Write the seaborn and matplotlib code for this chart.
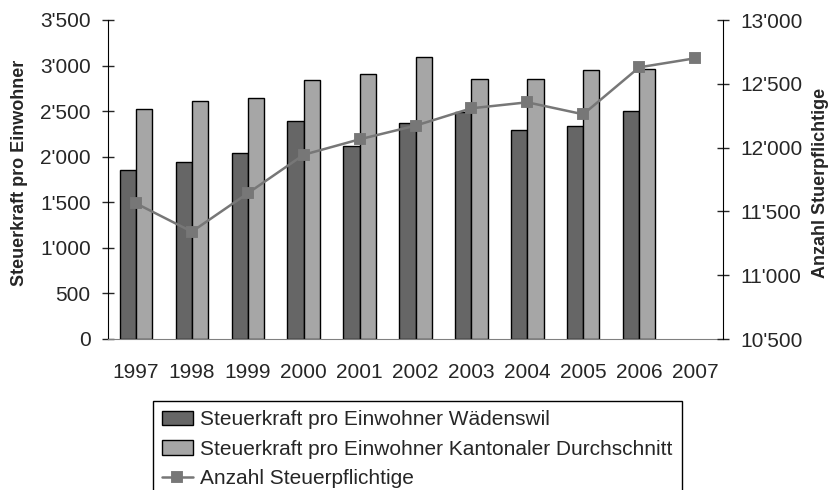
import numpy as np
import pandas as pd
import seaborn as sns
import matplotlib.pyplot as plt
from matplotlib.ticker import FuncFormatter, FixedLocator

# Daten
jahre = ['1997', '1998', '1999', '2000', '2001', '2002', '2003', '2004', '2005', '2006', '2007']
jahre_balken = ['1997', '1998', '1999', '2000', '2001', '2002', '2003', '2004', '2005', '2006']
steuerkraft_waedenswil = [1855, 1943, 2042, 2390, 2119, 2375, 2490, 2291, 2342, 2503]
steuerkraft_kanton = [2525, 2616, 2649, 2847, 2912, 3095, 2858, 2858, 2946, 2957]
anzahl_steuerpflichtige = [11563, 11341, 11642, 11944, 12065, 12172, 12308, 12355, 12261, 12629, 12700]

serie_w = 'Steuerkraft pro Einwohner Wädenswil'
serie_k = 'Steuerkraft pro Einwohner Kantonaler Durchschnitt'
serie_a = 'Anzahl Steuerpflichtige'

df_balken = pd.DataFrame({
    'Jahr': jahre_balken * 2,
    'Wert': steuerkraft_waedenswil + steuerkraft_kanton,
    'Serie': [serie_w] * len(jahre_balken) + [serie_k] * len(jahre_balken),
})
df_linie = pd.DataFrame({'Jahr': jahre, 'Anzahl': anzahl_steuerpflichtige})

sns.set_style('white')
plt.rcParams['font.family'] = ['Liberation Sans', 'DejaVu Sans']

fig = plt.figure(figsize=(8.35, 4.9), dpi=100)
ax = fig.add_axes([108 / 835, 1 - 339 / 490, 615 / 835, 319 / 490])

sns.barplot(data=df_balken, x='Jahr', y='Wert', hue='Serie', order=jahre,
            palette=['#666666', '#a6a6a6'], width=0.58, gap=0,
            edgecolor='black', linewidth=1, saturation=1, ax=ax)
ax.get_legend().remove()

ax2 = ax.twinx()
sns.pointplot(data=df_linie, x='Jahr', y='Anzahl', order=jahre, color='#777777',
              markers='s', markersize=7, linewidth=1.8, ax=ax2)

# Achsen
tausender = FuncFormatter(lambda v, p: f"{int(round(v)):,}".replace(",", "'"))
ax.set_ylim(0, 3500)
ax.set_yticks(np.arange(0, 3501, 500))
ax.yaxis.set_major_formatter(tausender)
ax2.set_ylim(10500, 13000)
ax2.set_yticks(np.arange(10500, 13001, 500))
ax2.yaxis.set_major_formatter(tausender)
ax.set_xlim(-0.5, len(jahre) - 0.5)

ax.set_xticks(range(len(jahre)))
ax.set_xticklabels(jahre)
ax.xaxis.set_minor_locator(FixedLocator(np.arange(-0.5, len(jahre), 1.0)))
ax.tick_params(axis='x', which='major', length=0, pad=17, labelsize=15)
ax.tick_params(axis='x', which='minor', length=9, width=1, direction='inout', color='black')
ax.tick_params(axis='y', length=9, width=1, direction='inout', pad=8, labelsize=15, left=True)
ax2.tick_params(axis='y', length=9, width=1, direction='inout', pad=8, labelsize=15, right=True)

for a in (ax, ax2):
    a.spines['top'].set_visible(False)
ax.spines['right'].set_visible(False)
ax2.spines['left'].set_visible(False)
ax2.spines['bottom'].set_visible(False)
ax.spines['left'].set_color('black')
ax.spines['bottom'].set_color('#808080')
ax2.spines['right'].set_color('black')

ax.set_xlabel('')
ax.set_ylabel('Steuerkraft pro Einwohner', fontsize=13, fontweight='bold', va='center')
ax.yaxis.set_label_coords(-0.144, 0.522)
ax2.set_ylabel('Anzahl Stuerpflichtige', fontsize=13, fontweight='bold', va='center', rotation=90)
ax2.yaxis.set_label_coords(1.159, 0.49)

# Legende
handles, labels = ax.get_legend_handles_labels()
handles.append(ax2.lines[0])
labels.append(serie_a)
fig.legend(handles, labels, loc='upper left', bbox_to_anchor=(153 / 835, 1 - 401 / 490),
           frameon=True, fancybox=False, edgecolor='black', framealpha=1,
           fontsize=15, handlelength=1.45, handleheight=0.67, handletextpad=0.35,
           labelspacing=0.5, borderpad=0.45, borderaxespad=0)

fig.savefig('out.png', dpi=100)
